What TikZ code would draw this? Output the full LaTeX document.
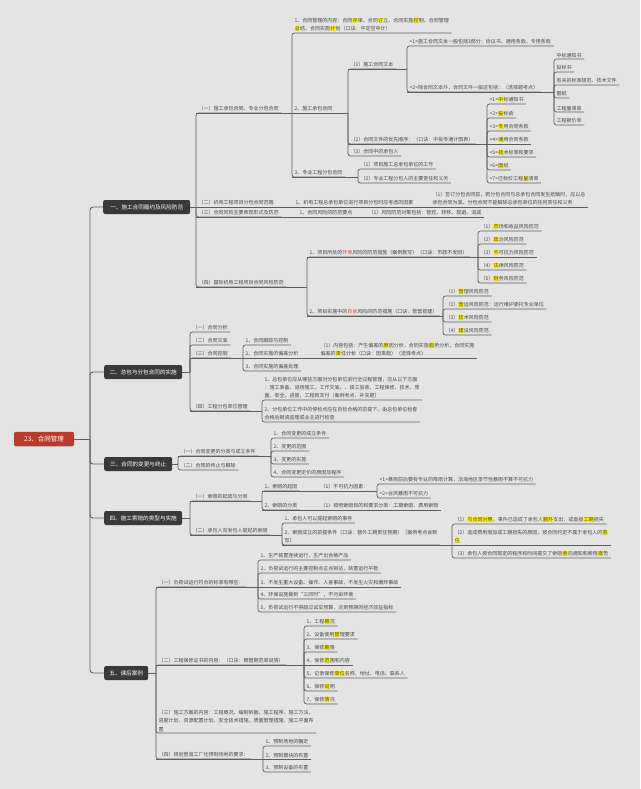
\documentclass[tikz,border=0pt]{standalone}
\usepackage{fontspec}
\newfontfamily\cjk{Noto Sans CJK SC}
\definecolor{bgc}{HTML}{E4E4E4}
\definecolor{lnc}{HTML}{5E5E5E}
\definecolor{txc}{HTML}{474747}
\definecolor{boxc}{HTML}{393939}
\definecolor{rootc}{HTML}{B93B2C}
\definecolor{hly}{HTML}{FFF000}
\definecolor{redt}{HTML}{E5473A}
\newcommand{\hy}[1]{{\setlength{\fboxsep}{0.25pt}\colorbox{hly}{#1}}}
\newcommand{\rd}[1]{\textcolor{redt}{#1}}
\newcommand{\lk}[2]{%
  \draw[conn] (#1.south west) -- (#1.south west -| #2.south west);
  \draw[conn,rounded corners=2.5pt] (#1.south west -| #2.south west) |- (#2.south east);}
\newcommand{\lks}[2]{\draw[conn] (#1.south west) -- (#2.south east);}
\newcommand{\lb}[2]{%
  \draw[conn] (#1.east) -- (#1.east -| #2.south west);
  \draw[conn,rounded corners=2.5pt] (#1.east -| #2.south west) |- (#2.south east);}
\newcommand{\lbs}[2]{\draw[conn] (#1.east) -- (#2.south east);}
\begin{document}
\begin{tikzpicture}[x=1pt,y=-1pt,
  leaf/.style={anchor=south west, inner xsep=2.5pt, inner ysep=1.4pt,
    font=\cjk\fontsize{5}{8.2}\selectfont, text=txc, align=left},
  mainbox/.style={anchor=west, fill=boxc, text=white, rounded corners=2pt,
    minimum height=14pt, inner xsep=0pt, font=\cjk\fontsize{5.6}{6}\selectfont},
  rootbox/.style={fill=rootc, text=white, rounded corners=2pt, minimum width=60pt,
    minimum height=14.5pt, font=\cjk\fontsize{6.5}{7}\selectfont},
  conn/.style={draw=lnc, line width=0.7pt}]
\fill[bgc] (0,0) rectangle (640,789);
\useasboundingbox (0,0) rectangle (640,789);

% root and branches
\node[rootbox] (root) at (44,439) {23、合同管理};
\coordinate (tr) at (90,439);
\node[mainbox, minimum width=87pt] (A) at (103,207) {一、施工合同履约及风险防范};
\node[mainbox, minimum width=78pt] (B) at (104,372) {二、总包与分包合同的实施};
\node[mainbox, minimum width=68pt] (C) at (104,464) {三、合同的变更与终止};
\node[mainbox, minimum width=78pt] (D) at (104,518) {四、施工索赔的类型与实施};
\node[mainbox, minimum width=44pt] (E) at (104,673) {五、课后案例};

% ---------- section A ----------
\node[leaf] (A1) at (196,113) {（一）施工承包合同、专业分包合同};
\node[leaf] (A1a) at (292,33) {1、合同管理的内容：合同\hy{评}审、合同\hy{订}立、合同实施\hy{控}制、合同管理\\\hy{总}结、合同实施\hy{计}划（口诀：平定空中计）};
\node[leaf] (A1b) at (292,113) {2、施工承包合同};
\node[leaf] (A1c) at (292,177) {3、专业工程分包合同};
\node[leaf] (A1b1) at (348,69) {（1）施工合同文本};
\node[leaf] (A1b2) at (348,144) {（2）合同文件的优先顺序：（口诀：中投专通计图表）};
\node[leaf] (A1b3) at (348,156) {（3）合同中的承包人};
\node[leaf] (P1) at (407,46) {<1>施工合同文本一般包括3部分：协议书、通用条款、专用条款};
\node[leaf] (P2) at (407,92) {<2>除合同文本外，合同文件一般还包括：（选择题考点）};
\node[leaf] (Q1) at (554,59) {中标通知书};
\node[leaf] (Q2) at (554,72) {投标书};
\node[leaf] (Q3) at (554,85) {有关的标准规范、技术文件};
\node[leaf] (Q4) at (554,98) {图纸};
\node[leaf] (Q5) at (554,112) {工程量清单};
\node[leaf] (Q6) at (554,125) {工程报价单};
\node[leaf] (R1) at (487,104) {<1>\hy{中}标通知书};
\node[leaf] (R2) at (487,118) {<2>\hy{投}标函};
\node[leaf] (R3) at (487,131) {<3>\hy{专}用合同条款};
\node[leaf] (R4) at (487,144) {<4>\hy{通}用合同条款};
\node[leaf] (R5) at (487,157) {<5>\hy{技}术标准和要求};
\node[leaf] (R6) at (487,170) {<6>\hy{图}纸};
\node[leaf] (R7) at (487,183) {<7>已标价工程\hy{量}清单};
\node[leaf] (S1) at (358,169) {（1）项目施工总承包单位的工作};
\node[leaf] (S2) at (358,183) {（2）专业工程分包人的主要责任和义务};
\node[leaf] (A2) at (196,207) {（二）机电工程项目分包合同范围};
\node[leaf] (A2a) at (293,207) {1、机电工程总承包单位进行项目分包时应考虑的因素};
\node[leaf] (A2b) at (430,207) {（1）签订分包合同前，若分包合同与总承包合同发生抵触时，应以总\\承包合同为准。分包合同不能解除总承包单位的任何责任和义务};
\node[leaf] (A3) at (196,217) {（三）合同风险主要表现形式及防范};
\node[leaf] (A3a) at (297,217) {1、合同风险的防范要点};
\node[leaf] (A3b) at (366,217) {（1）风险防范对策包括：管控、转移、规避、消减};
\node[leaf] (A4) at (196,287) {（四）国际机电工程项目合同风险防范};
\node[leaf] (A4a) at (307,257) {1、项目所处的\rd{环境}风险的防范措施（案例默写）（口诀：市政不发财）};
\node[leaf] (A4b) at (307,316) {2、项目实施中的\rd{自身}风险的防范措施（口诀：管营技建）};
\node[leaf] (T1) at (478,231) {（1）\hy{市}场和收益风险防范};
\node[leaf] (T2) at (478,244) {（2）\hy{政}治风险防范};
\node[leaf] (T3) at (478,257) {（3）\hy{不}可抗力风险防范};
\node[leaf] (T4) at (478,270) {（4）\hy{法}律风险防范};
\node[leaf] (T5) at (478,283) {（5）\hy{财}务风险防范};
\node[leaf] (U1) at (443,296) {（1）\hy{管}理风险防范};
\node[leaf] (U2) at (443,309) {（2）\hy{营}运风险防范：运行维护委托专业单位};
\node[leaf] (U3) at (443,322) {（3）\hy{技}术风险防范};
\node[leaf] (U4) at (443,335) {（4）\hy{建}设风险防范};

% ---------- section B ----------
\node[leaf] (B1) at (190,332) {（一）合同分析};
\node[leaf] (B2) at (190,345) {（二）合同交底};
\node[leaf] (B3) at (190,358) {（三）合同控制};
\node[leaf] (B4) at (190,411) {（四）工程分包单位管理};
\node[leaf] (B3a) at (243,345) {1、合同跟踪与控制};
\node[leaf] (B3b) at (243,358) {2、合同实施的偏差分析};
\node[leaf] (B3c) at (243,371) {3、合同实施的偏差处理};
\node[leaf] (B3d) at (318,358) {（1）内容包括：产生偏差的\hy{原}因分析，合同实施\hy{趋}势分析，合同实施\\偏差的\hy{责}任分析（口诀：因责趋）（选择考点）};
\node[leaf] (B4a) at (262,400) {1、总包单位应从哪些方面对分包单位进行全过程管理，应从以下方面\\：施工准备、进场施工、工作交底、、竣工验收、工程保修、技术、质\\量、安全、进度、工程款支付（案例考点、补充题）};
\node[leaf] (B4b) at (262,422) {2、分包单位工作中的停检点应在自检合格的前提下，由总包单位检查\\合格后报请监理或业主进行检查};

% ---------- section C ----------
\node[leaf] (C1) at (178,456) {（一）合同变更的分类与成立条件};
\node[leaf] (C2) at (178,470) {（二）合同的终止与解除};
\node[leaf] (C1a) at (271,438) {1、合同变更的成立条件};
\node[leaf] (C1b) at (271,451) {2、变更的范围};
\node[leaf] (C1c) at (271,464) {3、变更的实施};
\node[leaf] (C1d) at (271,477) {4、合同变更定价的原因及程序};

% ---------- section D ----------
\node[leaf] (D1) at (190,501) {（一）索赔的起因与分类};
\node[leaf] (D2) at (190,535) {（二）承包人向发包人提起的索赔};
\node[leaf] (D1a) at (262,491) {1、索赔的起因};
\node[leaf] (D1b) at (262,510) {2、索赔的分类};
\node[leaf] (D1c) at (318,491) {（1）不可抗力因素：};
\node[leaf] (D1d) at (318,510) {（1）按照索赔目的和要求分类：工期索赔、费用索赔};
\node[leaf] (V1) at (377,484) {<1>暴雨前后要有专业的降雨计算，沿海地区季节性暴雨不算不可抗力};
\node[leaf] (V2) at (377,498) {<2>台风暴雨不可抗力};
\node[leaf] (D2a) at (282,523) {1、承包人可以提起索赔的事件};
\node[leaf] (D2b) at (282,545) {2、索赔成立的前提条件（口诀：额外工期责任预期）（案例考点会默\\写）};
\node[leaf] (W1) at (452,524) {（1）\hy{与合同对照}，事件已造成了承包人\hy{额外}支出，或直接\hy{工期}损失};
\node[leaf] (W2) at (452,545) {（2）造成费用增加或工期损失的原因，按合同约定不属于承包人的\hy{责}\\\hy{任}};
\node[leaf] (W3) at (452,558) {（3）承包人按合同规定的程序和时间提交了索赔\hy{意}向通知和索赔\hy{报}告};

% ---------- section E ----------
\node[leaf] (E1) at (156,587) {（一）负荷试运行符合的标准有哪些：};
\node[leaf] (E2) at (156,665) {（二）工程保修证书的内容：（口诀：概管期范单说情）};
\node[leaf] (E3) at (156,733) {（三）施工方案的内容：工程概况、编制依据、施工程序、施工方法、\\进度计划、资源配置计划、安全技术措施、质量管理措施、施工平面布\\置};
\node[leaf] (E4) at (156,759) {（四）规划管道工厂化预制场地的要求：};
\node[leaf] (E1a) at (258,560) {1、生产装置连续运行，生产出合格产品};
\node[leaf] (E1b) at (258,573) {2、负荷试运行的主要控制点正点到达，装置运行平稳};
\node[leaf] (E1c) at (258,587) {3、不发生重大设备、操作、人身事故，不发生火灾和爆炸事故};
\node[leaf] (E1d) at (258,599) {4、环保设施做到“三同时”，不污染环境};
\node[leaf] (E1e) at (258,612) {5、负荷试运行不得超过试车预算，达到预期的经济效益指标};
\node[leaf] (E2a) at (304,626) {1、工程\hy{概}况};
\node[leaf] (E2b) at (304,639) {2、设备使用\hy{管}理要求};
\node[leaf] (E2c) at (304,652) {3、保修\hy{期}限};
\node[leaf] (E2d) at (304,665) {4、保修\hy{范}围和内容};
\node[leaf] (E2e) at (304,678) {5、记录保修\hy{单位}名称、地址、电话、联系人};
\node[leaf] (E2f) at (304,691) {6、保修\hy{说}明};
\node[leaf] (E2g) at (304,704) {7、保修\hy{情}况};
\node[leaf] (E4a) at (263,746) {1、预制场地的确定};
\node[leaf] (E4b) at (263,759) {2、预制模块的布置};
\node[leaf] (E4c) at (263,772) {3、预制设备的布置};

% ---------- connectors ----------
\draw[conn, line width=0.9pt] (root.east) -- (tr);
\foreach \b in {A,B,C,D,E}{\draw[conn, line width=0.9pt, rounded corners=3pt] (tr) |- (\b.west);}

\lb{A}{A1} \lbs{A}{A2} \lb{A}{A3} \lb{A}{A4}
\lk{A1}{A1a} \lks{A1}{A1b} \lk{A1}{A1c}
\lk{A1b}{A1b1} \lk{A1b}{A1b2} \lk{A1b}{A1b3}
\lk{A1b1}{P1} \lk{A1b1}{P2}
\lk{P2}{Q1} \lk{P2}{Q2} \lk{P2}{Q3} \lk{P2}{Q4} \lk{P2}{Q5} \lk{P2}{Q6}
\lk{A1b2}{R1} \lk{A1b2}{R2} \lk{A1b2}{R3} \lks{A1b2}{R4} \lk{A1b2}{R5} \lk{A1b2}{R6} \lk{A1b2}{R7}
\lk{A1c}{S1} \lk{A1c}{S2}
\lks{A2}{A2a} \lks{A2a}{A2b}
\lks{A3}{A3a} \lks{A3a}{A3b}
\lk{A4}{A4a} \lk{A4}{A4b}
\lk{A4a}{T1} \lk{A4a}{T2} \lks{A4a}{T3} \lk{A4a}{T4} \lk{A4a}{T5}
\lk{A4b}{U1} \lk{A4b}{U2} \lk{A4b}{U3} \lk{A4b}{U4}

\lb{B}{B1} \lb{B}{B2} \lb{B}{B3} \lb{B}{B4}
\lk{B3}{B3a} \lks{B3}{B3b} \lk{B3}{B3c} \lks{B3b}{B3d}
\lk{B4}{B4a} \lk{B4}{B4b}

\lb{C}{C1} \lb{C}{C2}
\lk{C1}{C1a} \lk{C1}{C1b} \lk{C1}{C1c} \lk{C1}{C1d}

\lb{D}{D1} \lb{D}{D2}
\lk{D1}{D1a} \lk{D1}{D1b} \lks{D1a}{D1c} \lks{D1b}{D1d}
\lk{D1c}{V1} \lk{D1c}{V2}
\lk{D2}{D2a} \lk{D2}{D2b}
\lk{D2b}{W1} \lks{D2b}{W2} \lk{D2b}{W3}

\lb{E}{E1} \lb{E}{E2} \lb{E}{E3} \lb{E}{E4}
\lk{E1}{E1a} \lk{E1}{E1b} \lks{E1}{E1c} \lk{E1}{E1d} \lk{E1}{E1e}
\lk{E2}{E2a} \lk{E2}{E2b} \lk{E2}{E2c} \lks{E2}{E2d} \lk{E2}{E2e} \lk{E2}{E2f} \lk{E2}{E2g}
\lk{E4}{E4a} \lks{E4}{E4b} \lk{E4}{E4c}
\end{tikzpicture}
\end{document}
